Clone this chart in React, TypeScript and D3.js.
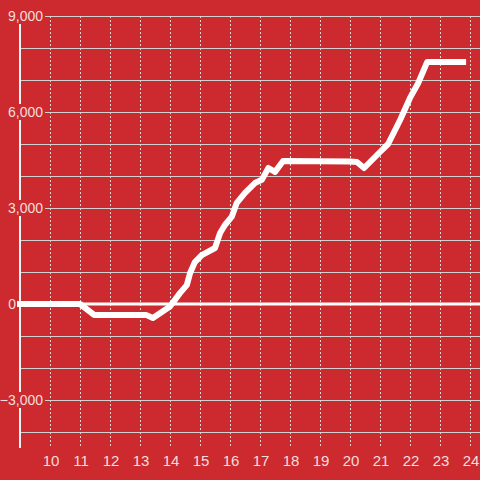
import React from "react";
import * as d3 from "d3";

const xTicks = [10, 11, 12, 13, 14, 15, 16, 17, 18, 19, 20, 21, 22, 23, 24];
const yLabelTicks = [-3000, 0, 3000, 6000, 9000];
const yGridTicks = [-4000, -3000, -2000, -1000, 0, 1000, 2000, 3000, 4000, 5000, 6000, 7000, 8000, 9000];

const seriesX = [8.9, 11, 11.47, 13.2, 13.43, 14.0, 14.33, 14.56, 14.67, 14.83, 15.06, 15.5, 15.67, 15.83, 16.06, 16.22, 16.5, 16.83, 17.06, 17.28, 17.5, 17.77, 20.0, 20.23, 20.47, 21.0, 21.27, 21.67, 22.0, 22.27, 22.57, 23.87];
const seriesY = [0, 0, -340, -340, -440, -80, 340, 590, 970, 1310, 1530, 1750, 2220, 2470, 2730, 3150, 3470, 3780, 3880, 4250, 4130, 4470, 4450, 4440, 4250, 4750, 5000, 5750, 6440, 6900, 7560, 7560];

const BG = "#cc2a2e";
const W = 480;
const H = 480;

export default function App() {
  const x = d3.scaleLinear().domain([9, 24.333]).range([20, 480]);
  const y = d3.scaleLinear().domain([-4500, 9000]).range([448, 16]);
  const data = seriesX.map((v, i) => [v, seriesY[i]] as [number, number]);
  const line = d3
    .line<[number, number]>()
    .x((d) => x(d[0]))
    .y((d) => y(d[1]));
  const fmt = d3.format(",");
  const font = "'Liberation Sans', Arial, sans-serif";
  return (
    <svg
      width={W}
      height={H}
      style={{ position: "absolute", left: 0, top: 0, display: "block" }}
    >
      <rect x={0} y={0} width={W} height={H} fill={BG} />
      {yGridTicks.map((t) => (
        <line key={"h" + t} x1={20} x2={480} y1={y(t) + 0.5} y2={y(t) + 0.5} stroke="#d2d2d2" strokeWidth={1} />
      ))}
      {xTicks.map((t) => (
        <line
          key={"v" + t}
          x1={Math.round(x(t)) + 0.5}
          x2={Math.round(x(t)) + 0.5}
          y1={y(9000)}
          y2={448}
          stroke="#d8d8d8"
          strokeWidth={1}
          strokeDasharray="2,2"
        />
      ))}
      <line x1={20} x2={20} y1={16} y2={448} stroke="#f4f4f4" strokeWidth={2} />
      {yLabelTicks.filter((t) => t !== 0).map((t) => (
        <rect key={"r" + t} x={3} y={y(t) - 8} width={42} height={16} fill={BG} />
      ))}
      {yLabelTicks.map((t) => (
        <text
          key={"yl" + t}
          x={t === 0 ? 16 : 43}
          y={y(t)}
          dy="0.36em"
          textAnchor="end"
          fontFamily={font}
          fontSize={14}
          fill="rgba(255,255,255,0.85)"
        >
          {fmt(t)}
        </text>
      ))}
      {xTicks.map((t) => (
        <text
          key={"xl" + t}
          x={x(t) + 1}
          y={466}
          textAnchor="middle"
          fontFamily={font}
          fontSize={15}
          fill="rgba(255,255,255,0.85)"
        >
          {t}
        </text>
      ))}
      <line x1={20} x2={480} y1={y(0)} y2={y(0)} stroke="#ffffff" strokeWidth={3} />
      <path
        d={line(data) || ""}
        fill="none"
        stroke="#ffffff"
        strokeWidth={6}
        strokeLinejoin="round"
        strokeLinecap="butt"
      />
    </svg>
  );
}
